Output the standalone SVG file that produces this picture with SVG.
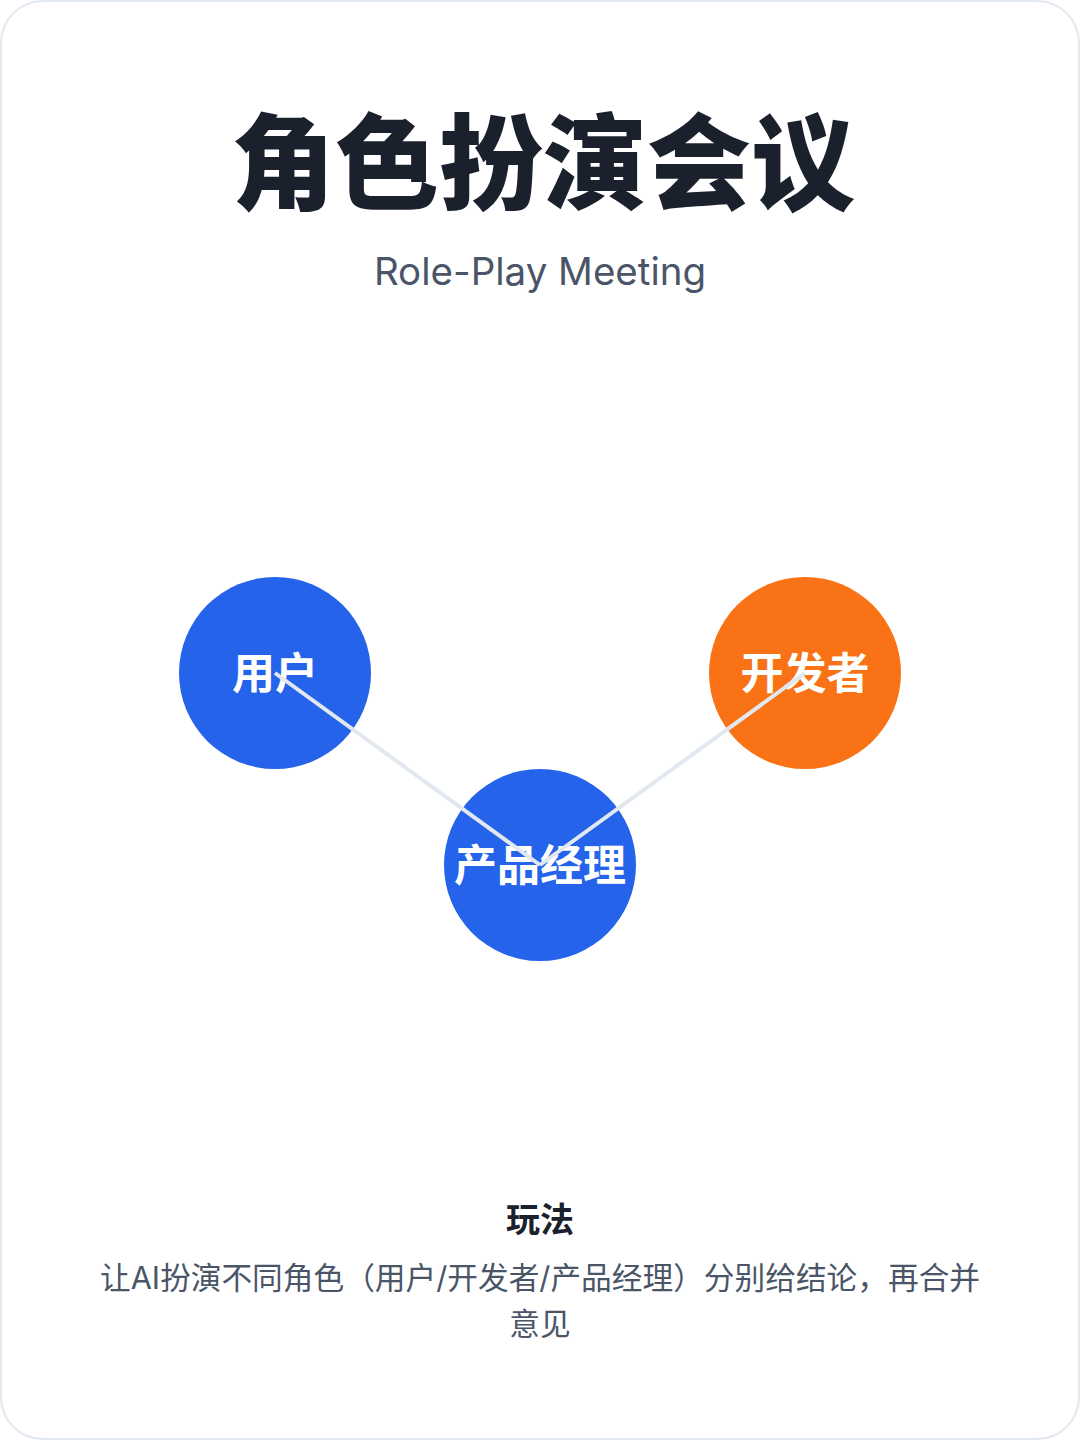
<svg xmlns="http://www.w3.org/2000/svg" width="1080" height="1440" viewBox="0 0 1080 1440">
<style>
.title{font-family:"Noto Sans CJK SC","Noto Sans",sans-serif;font-weight:900;font-size:104px;fill:#1a202c;text-anchor:middle}
.sub{font-family:Inter,"Noto Sans",sans-serif;font-size:38.5px;fill:#4a5568;text-anchor:middle}
.node{font-family:"Noto Sans CJK SC",sans-serif;font-weight:700;font-size:43px;fill:#ffffff;text-anchor:middle}
.h{font-family:"Noto Sans CJK SC",sans-serif;font-weight:700;font-size:34px;fill:#1a202c;text-anchor:middle}
.d{font-family:Inter,"Noto Sans CJK SC",sans-serif;font-size:30.7px;fill:#4a5568;text-anchor:middle}
.conn{stroke:#e2e8f0;stroke-width:4;fill:none}
</style>
<rect x="0" y="0" width="1080" height="1440" fill="#ffffff"/>
<rect x="1" y="1" width="1078" height="1438" rx="42" ry="42" fill="#ffffff" stroke="#e2e8f0" stroke-width="2"/>
<text class="title" x="543" y="202">角色扮演会议</text>
<text class="sub" x="540" y="285">Role-Play Meeting</text>
<g id="node-user">
<circle cx="275" cy="673" r="96" fill="#2563eb"/>
<text class="node" x="275" y="689">用户</text>
</g>
<g id="node-dev">
<circle cx="805" cy="673" r="96" fill="#f97316"/>
<text class="node" x="805" y="689">开发者</text>
</g>
<g id="node-pm">
<circle cx="540" cy="865" r="96" fill="#2563eb"/>
<text class="node" x="540" y="881">产品经理</text>
</g>
<g id="connectors">
<line class="conn" x1="275" y1="673" x2="540" y2="865"/>
<line class="conn" x1="540" y1="865" x2="805" y2="673"/>
</g>
<text class="h" x="540" y="1232">玩法</text>
<text class="d" x="540" y="1289">让AI扮演不同角色（用户/开发者/产品经理）分别给结论，再合并</text>
<text class="d" x="540" y="1335">意见</text>
</svg>
